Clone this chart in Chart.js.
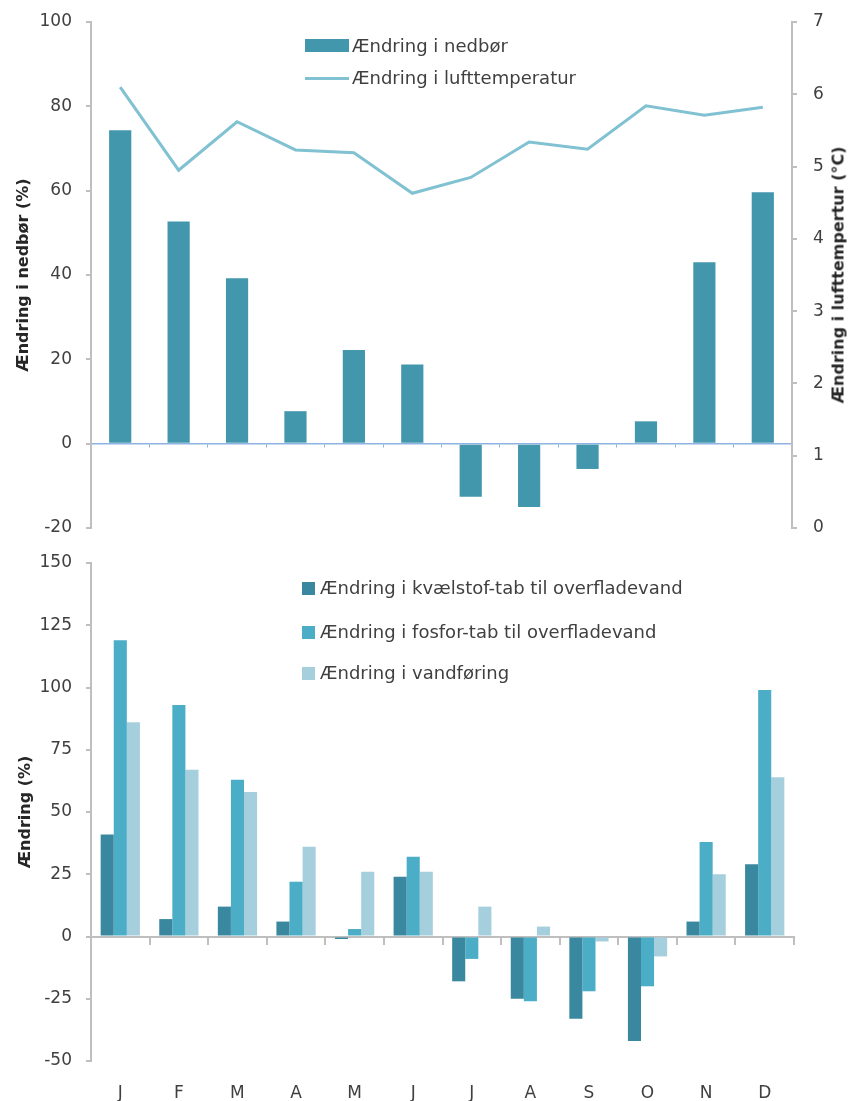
<!DOCTYPE html>
<html>
<head>
<meta charset="utf-8">
<script src="https://cdn.jsdelivr.net/npm/chart.js@4/dist/chart.umd.min.js"></script>
<style>
  body { margin: 0; background: #fff; }
  #wrap { position: relative; width: 849px; height: 1101px; font-family: "DejaVu Sans", sans-serif; color: #404040; }
  #topChart { position: absolute; left: 0; top: 0; }
  #bottomChart { position: absolute; left: 0; top: 545px; }
  .leg { position: absolute; font-size: 18px; line-height: 20px; height: 20px; white-space: nowrap; }
  .leg .sw { position: absolute; left: 0; }
  .rtitle { position: absolute; left: 838px; top: 275px; transform: translate(-50%, -50%) rotate(-90deg);
            font-weight: bold; font-size: 16px; white-space: nowrap; color: #262626; }
</style>
</head>
<body>
<div id="wrap">
  <canvas id="topChart" width="849" height="545"></canvas>
  <canvas id="bottomChart" width="849" height="556"></canvas>
  <div class="rtitle">Ændring i lufttempertur (°C)</div>
</div>
<script>
const months = ['J', 'F', 'M', 'A', 'M', 'J', 'J', 'A', 'S', 'O', 'N', 'D'];

// top panel
const nedborPct = [74.3, 52.7, 39.2, 7.7, 22.2, 18.8, -12.6, -15, -6, 5.3, 43, 59.6];
const luftTemp = [6.1, 4.95, 5.62, 5.23, 5.19, 4.63, 4.85, 5.34, 5.24, 5.84, 5.71, 5.82];
const nedborRange = [-20, 100, 20];
const tempRange = [0, 7, 1];

// bottom panel
const kvaelstof = [41, 7, 12, 6, -1, 24, -18, -25, -33, -42, 6, 29];
const fosfor = [119, 93, 63, 22, 3, 32, -9, -26, -22, -20, 38, 99];
const vandforing = [86, 67, 58, 36, 26, 26, 12, 4, -2, -8, 25, 64];
const aendringRange = [-50, 150, 25];

const tickFont = { family: 'DejaVu Sans', size: 17 };
const titleFont = { family: 'DejaVu Sans', size: 16, weight: 'bold' };
const axisGrey = '#bfbfbf';
const textCol = '#404040';

// fixed axis width, and no extra label padding pushing the plot area in
const fixWidth = (w) => (s) => {
    s.width = w;
    s.paddingTop = 0;
    s.paddingBottom = 0;
};

const addLegend = (chart, rows) => {
    const wrap = document.getElementById('wrap');
    const top0 = chart.canvas.offsetTop;
    rows.forEach(r => {
        const ds = chart.data.datasets[r.index];
        const row = document.createElement('div');
        row.className = 'leg';
        row.style.left = r.x + 'px';
        row.style.top = (top0 + r.cy - 10) + 'px';
        const sw = document.createElement('span');
        sw.className = 'sw';
        sw.style.width = r.w + 'px';
        sw.style.height = r.h + 'px';
        sw.style.top = (10 - r.h / 2) + 'px';
        sw.style.background = ds.type === 'line' ? ds.borderColor : ds.backgroundColor;
        const txt = document.createElement('span');
        txt.style.position = 'absolute';
        txt.style.left = r.tx + 'px';
        txt.textContent = ds.label;
        row.appendChild(sw);
        row.appendChild(txt);
        wrap.appendChild(row);
    });
};

const topChart = new Chart(document.getElementById('topChart'), {
    type: 'bar',
    data: {
        labels: months,
        datasets: [{
            label: 'Ændring i nedbør',
            data: nedborPct,
            xAxisID: 'x',
            yAxisID: 'y',
            backgroundColor: '#4397ad',
            categoryPercentage: 1,
            barPercentage: 0.38,
            order: 1
        }, {
            type: 'line',
            label: 'Ændring i lufttemperatur',
            data: luftTemp,
            xAxisID: 'x',
            yAxisID: 'y1',
            borderColor: '#80c1d2',
            borderWidth: 3,
            pointRadius: 0,
            tension: 0,
            order: 0
        }]
    },
    options: {
        responsive: false,
        animation: false,
        devicePixelRatio: 1,
        layout: { padding: { top: 22, bottom: 17, left: 0, right: 0 } },
        plugins: { legend: { display: false }, tooltip: { enabled: false } },
        scales: {
            x: {
                position: { y: 0 },
                offset: true,
                ticks: { display: false },
                grid: { offset: true, drawOnChartArea: false, tickLength: 3, color: '#8db3e2' },
                border: { color: '#8db3e2', width: 1.5 }
            },
            y: {
                position: 'left',
                min: nedborRange[0], max: nedborRange[1],
                ticks: { stepSize: nedborRange[2], font: tickFont, color: textCol, padding: 14 },
                grid: { drawOnChartArea: false, tickLength: 5, color: axisGrey, lineWidth: 2 },
                border: { color: axisGrey, width: 2 },
                title: { display: true, text: 'Ændring i nedbør (%)', font: titleFont, color: '#262626', padding: { top: 14 } },
                afterFit: fixWidth(91)
            },
            y1: {
                position: 'right',
                min: tempRange[0], max: tempRange[1],
                ticks: { stepSize: tempRange[2], font: tickFont, color: textCol, padding: 16 },
                grid: { drawOnChartArea: false, tickLength: 5, color: axisGrey, lineWidth: 2 },
                border: { color: axisGrey, width: 2 },
                afterFit: fixWidth(57)
            }
        }
    }
});

const bottomChart = new Chart(document.getElementById('bottomChart'), {
    type: 'bar',
    data: {
        labels: months,
        datasets: [{
            label: 'Ændring i kvælstof-tab til overfladevand',
            data: kvaelstof,
            xAxisID: 'x',
            backgroundColor: '#3a889f'
        }, {
            label: 'Ændring i fosfor-tab til overfladevand',
            data: fosfor,
            xAxisID: 'x',
            backgroundColor: '#4badc6'
        }, {
            label: 'Ændring i vandføring',
            data: vandforing,
            xAxisID: 'x',
            backgroundColor: '#a6cfdd'
        }]
    },
    options: {
        responsive: false,
        animation: false,
        devicePixelRatio: 1,
        layout: { padding: { top: 18, bottom: 0, left: 0, right: 55 } },
        plugins: { legend: { display: false }, tooltip: { enabled: false } },
        datasets: { bar: { categoryPercentage: 0.67, barPercentage: 1 } },
        scales: {
            x: {
                position: 'bottom',
                offset: true,
                grid: { display: false },
                border: { display: false },
                ticks: { font: tickFont, color: textCol, padding: 14 },
                afterFit: s => { s.height = 40 }
            },
            xz: {
                axis: 'x',
                type: 'category',
                position: { y: 0 },
                offset: true,
                ticks: { display: false },
                grid: { offset: true, drawOnChartArea: false, tickLength: 7, color: axisGrey, lineWidth: 2 },
                border: { color: axisGrey, width: 2 }
            },
            y: {
                position: 'left',
                min: aendringRange[0], max: aendringRange[1],
                ticks: { stepSize: aendringRange[2], font: tickFont, color: textCol, padding: 14 },
                grid: { drawOnChartArea: false, tickLength: 5, color: axisGrey, lineWidth: 2 },
                border: { color: axisGrey, width: 2 },
                title: { display: true, text: 'Ændring (%)', font: titleFont, color: '#262626', padding: { top: 16 } },
                afterFit: fixWidth(91)
            }
        }
    }
});

addLegend(topChart, [
    { index: 0, x: 305, cy: 45.5, w: 44, h: 13, tx: 47 },
    { index: 1, x: 305, cy: 78, w: 44, h: 3, tx: 47 }
]);
addLegend(bottomChart, [
    { index: 0, x: 302, cy: 43, w: 13, h: 13, tx: 18 },
    { index: 1, x: 302, cy: 87, w: 13, h: 13, tx: 18 },
    { index: 2, x: 302, cy: 128, w: 13, h: 13, tx: 18 }
]);
</script>
</body>
</html>
